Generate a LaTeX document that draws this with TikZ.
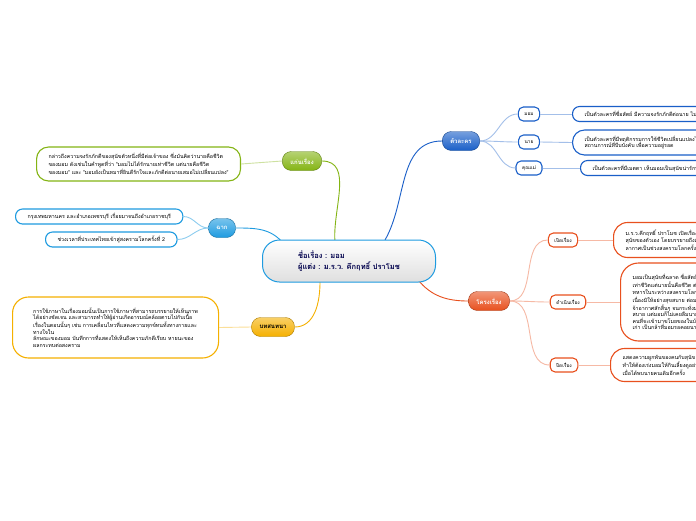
\documentclass[tikz,border=0pt]{standalone}
\usepackage{fontspec}
\newfontfamily\thai[Script=Thai]{Loma}
\begin{document}
\begin{tikzpicture}[x=1pt,y=-1pt,
 topic/.style={rounded corners=9pt,minimum height=19pt,inner xsep=8pt,font=\thai\fontsize{6}{7}\selectfont\bfseries,text=white,draw=#1!70!black,top color=#1!60!white,bottom color=#1},
 leaf/.style={draw=#1,line width=1.1pt,rounded corners=12pt,fill=white,align=left,font=\thai\fontsize{5.3}{6.6}\selectfont,inner xsep=12pt,inner ysep=3pt,anchor=west},
 sub/.style={draw=#1,line width=1.1pt,rounded corners=5pt,fill=white,font=\thai\fontsize{4.8}{6}\selectfont,minimum height=14pt,inner xsep=6pt},
 ln/.style={draw=#1,line width=0.9pt}]
\clip (0,0) rectangle (696,520);
\fill[white] (0,0) rectangle (696,520);
\definecolor{cg}{HTML}{84B414}
\definecolor{cb}{HTML}{1E9BE0}
\definecolor{cy}{HTML}{F5B000}
\definecolor{cd}{HTML}{1A5FC8}
\definecolor{co}{HTML}{E8501E}
\coordinate (a1) at (335,242);
\coordinate (a2) at (283,243);
\coordinate (a3) at (320,282);
\coordinate (a4) at (385,240);
\coordinate (a5) at (418,280);
\node[topic=cg] (t1) at (302,161) {แก่นเรื่อง};
\node[topic=cb] (t2) at (222,228) {ฉาก};
\node[topic=cy,text=black] (t3) at (273,327) {บทสนทนา};
\node[topic=cd] (t4) at (461,141) {ตัวละคร};
\node[topic=co] (t5) at (489,301) {โครงเรื่อง};
\draw[ln=cg] (t1.east) to[out=0,in=95] (a1);
\draw[ln=cb] (t2.east) to[out=0,in=130] (a2);
\draw[ln=cy] (t3.east) to[out=0,in=-90] (a3);
\draw[ln=cd] (t4.west) to[out=180,in=60] (a4);
\draw[ln=co] (t5.west) to[out=180,in=-50] (a5);
\node[draw=cb,line width=1pt,rounded corners=17pt,top color=white,bottom color=gray!25,minimum width=173pt,minimum height=42pt,align=left,font=\thai\fontsize{7.5}{11}\selectfont\bfseries,text=blue!30!black] (c) at (349,261) {ชื่อเรื่อง : มอม\\ผู้แต่ง : ม.ร.ว. คึกฤทธิ์ ปราโมช};
\node[leaf=cg,minimum height=34pt] (l1) at (36,164) {กล่าวถึงความจงรักภักดีของสุนัขตัวหนึ่งที่มีต่อเจ้าของ ซึ่งมันคิดว่านายคือชีวิต\\ของมอม ดังเช่นในคำพูดที่ว่า "มอมไม่ได้รักนายเท่าชีวิต แต่นายคือชีวิต\\ของมอม" และ "มอมยังเป็นหมาที่ยินดีรักใจและภักดีต่อนายเสมอไม่เปลี่ยนแปลง"};
\draw[ln=cg!40] (t1.west) -- (l1.east);
\node[leaf=cb,minimum height=15pt,rounded corners=7pt] (l2) at (15,216.5) {กรุงเทพมหานคร และอำเภอเพชรบุรี เรื่อยมาจนถึงอำเภอราชบุรี};
\node[leaf=cb,minimum height=15pt,rounded corners=7pt] (l3) at (45,239.5) {ช่วงเวลาที่ประเทศไทยเข้าสู่สงครามโลกครั้งที่ 2};
\draw[ln=cb!50] (t2.west) to[out=180,in=0] (l2.east);
\draw[ln=cb!50] (t2.west) to[out=180,in=0] (l3.east);
\node[leaf=cy,minimum height=61pt,minimum width=206pt,rounded corners=16pt] (l4) at (12,327.5) {การใช้ภาษาในเรื่องมอมนั้นเป็นการใช้ภาษาที่สามารถบรรยายให้เห็นภาพ\\ได้อย่างชัดเจน และสามารถทำให้ผู้อ่านเกิดอารมณ์คล้อยตามไปกับเนื้อ\\เรื่องในตอนนั้นๆ เช่น การเคลื่อนไหวที่แสดงความทุกข์ทนทั้งทางกายและ\\ทางใจใน\\ลักษณะของมอม บันทึกการที่แสดงให้เห็นถึงความภักดีเรียบ หายนะของ\\ผลกระทบต่อสงคราม};
\draw[ln=cy!40] (t3.west) -- (l4.east);
\node[sub=cd] (s1) at (529,114) {มอม};
\node[sub=cd] (s2) at (529,142) {นาย};
\node[sub=cd] (s3) at (529,168) {คุณแม่};
\foreach \s in {s1,s2,s3}{\draw[ln=cd!40] (t4.east) to[out=0,in=180] (\s.west);}
\node[leaf=cd,minimum height=15pt,rounded corners=7pt] (m1) at (572,114) {เป็นตัวละครที่ซื่อสัตย์ มีความจงรักภักดีต่อนาย ไม่เปลี่ยนแปลง};
\node[leaf=cd,minimum height=25pt] (m2) at (572,142.5) {เป็นตัวละครที่มีพฤติกรรมการใช้ชีวิตเปลี่ยนแปลงไปตาม\\สถานการณ์ที่บีบบังคับ เพื่อความอยู่รอด};
\node[leaf=cd,minimum height=15pt,rounded corners=7pt] (m3) at (580,168) {เป็นตัวละครที่มีเมตตา เห็นมอมเป็นสุนัขน่ารักน่าเอ็นดู};
\draw[ln=cd!40] (s1.east) -- (m1.west);
\draw[ln=cd!40] (s2.east) -- (m2.west);
\draw[ln=cd!40] (s3.east) -- (m3.west);
\node[sub=co] (p1) at (563,240) {เปิดเรื่อง};
\node[sub=co] (p2) at (568,302) {ดำเนินเรื่อง};
\node[sub=co] (p3) at (564,365) {ปิดเรื่อง};
\foreach \s in {p1,p2,p3}{\draw[ln=co!40] (t5.east) to[out=0,in=180] (\s.west);}
\node[leaf=co,minimum height=35pt,rounded corners=14pt] (q1) at (613,240) {ม.ร.ว.คึกฤทธิ์ ปราโมช เปิดเรื่องด้วยการเล่าถึง\\สุนัขของตัวเอง โดยบรรยายถึงลักษณะของมอม\\ลากาศเป็นช่วงสงครามโลกครั้งที่ 2};
\node[leaf=co,minimum height=78pt,rounded corners=18pt] (q2) at (620,302) {มอมเป็นสุนัขที่ฉลาด ซื่อสัตย์ รักนาย\\เท่าชีวิตแต่นายนั้นคือชีวิต ต่อมานายไปเป็น\\ทหารในระหว่างสงครามโลก มอมจึงอยู่กับ\\เนื่องมิให้อย่างสุขสบาย ต่อมาเกิด\\จ้าอากาศสักสิ้นๆ จนกระทั่งมอม\\สบาย แต่มอมก็ไม่เคยลืมนาย\\คนที่จะเข้ามาขโมยของในบ้าน\\เก่า เป็นกล้าที่มอมรอคอยนาย};
\node[leaf=co,minimum height=33pt,rounded corners=14pt] (q3) at (610,365) {แสดงความผูกพันของคนกับสุนัข\\ทำให้ต้องเร่งมอมให้กินเลี้ยงดูอย่างดี\\เมื่อได้พบนายคนเดิมอีกครั้ง};
\draw[ln=co!40] (p1.east) -- (q1.west);
\draw[ln=co!40] (p2.east) -- (q2.west);
\draw[ln=co!40] (p3.east) -- (q3.west);
\end{tikzpicture}
\end{document}
